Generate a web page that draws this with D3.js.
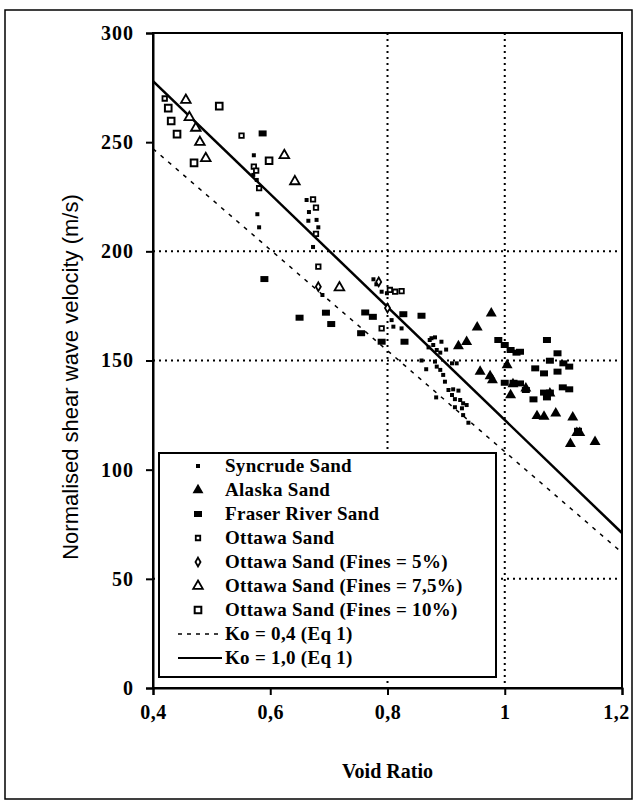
<!DOCTYPE html>
<html>
<head>
<meta charset="utf-8">
<script src="https://cdn.jsdelivr.net/npm/d3@7"></script>
<style>
  body { margin: 0; background: #fff; }
  text { fill: #000; }
</style>
</head>
<body>
<div id="chart"></div>
<script>
// void ratio (e) vs normalised shear wave velocity (m/s)
var syncrude = [
  [0.572, 244], [0.571, 235], [0.577, 232.7], [0.578, 217], [0.581, 211],
  [0.662, 223.5], [0.666, 218], [0.665, 214], [0.679, 214.4], [0.682, 211],
  [0.673, 202], [0.689, 180], [0.776, 187.2], [0.781, 184.9], [0.790, 181.5],
  [0.799, 180.8], [0.807, 168.5], [0.810, 165.5], [0.824, 164.7], [0.872, 159.4],
  [0.875, 160.2], [0.881, 160.6], [0.892, 158.6], [0.878, 157.1], [0.884, 154.8],
  [0.890, 153.6], [0.881, 149.5], [0.884, 147.2], [0.890, 145.7], [0.895, 143.4],
  [0.910, 148.7], [0.918, 148.7], [0.898, 140.3], [0.904, 136.5], [0.912, 136.8],
  [0.921, 136.2], [0.910, 134.2], [0.915, 132.3], [0.924, 131.9], [0.929, 130.4],
  [0.935, 129.6], [0.927, 128.1], [0.929, 125], [0.938, 121.5], [0.883, 133.1],
  [0.915, 128.6], [0.858, 150], [0.866, 146], [0.870, 156], [0.900, 155]
];
var alaska = [
  [0.921, 156.6], [0.935, 158.6], [0.953, 165.2], [0.977, 171.6], [0.958, 144.9],
  [0.975, 142.9], [0.979, 141], [1.004, 147.9], [1.014, 139.2], [1.010, 134.2],
  [1.036, 137.2], [1.055, 124.6], [1.067, 124.3], [1.087, 125.8], [1.116, 124],
  [1.123, 116.9], [1.128, 116.9], [1.112, 111.8], [1.154, 112.8], [1.077, 135]
];
var fraser = [
  [0.989, 159.4], [1.000, 157.1], [1.010, 154.8], [1.020, 153.6], [1.026, 154],
  [1.000, 139.8], [1.015, 139.8], [1.026, 139.5], [1.036, 136.5], [1.049, 132.2],
  [1.052, 146.4], [1.067, 144.1], [1.072, 159.4], [1.077, 149.9], [1.090, 153.3],
  [1.100, 148.7], [1.110, 147.2], [1.090, 144.9], [1.099, 137.7], [1.110, 136.8],
  [1.067, 135.3], [1.077, 135.3], [1.072, 133.1], [1.125, 117.8],
  [0.590, 187.3], [0.650, 169.6], [0.695, 171.9], [0.704, 166.7], [0.755, 162.5],
  [0.762, 172], [0.775, 170], [0.790, 158.6], [0.829, 158.6], [0.827, 171.2],
  [0.858, 170.5], [0.587, 254]
];
var ottawa = [
  [0.420, 270], [0.551, 253], [0.572, 238.8], [0.576, 237], [0.581, 228.9],
  [0.673, 223.8], [0.678, 220], [0.678, 208], [0.682, 193], [0.790, 164.7],
  [0.804, 182.3], [0.813, 181.5], [0.824, 181.8]
];
var fines5 = [[0.682, 183.8], [0.800, 174], [0.785, 186]];
var fines75 = [
  [0.456, 269.3], [0.462, 261.4], [0.473, 256.5], [0.480, 250], [0.490, 242.6],
  [0.624, 244], [0.642, 232], [0.718, 183.4]
];
var fines10 = [
  [0.426, 265.6], [0.431, 259.7], [0.441, 253.7], [0.470, 240.5], [0.513, 266.5],
  [0.598, 241.5]
];
var ko04 = [[0.4, 247], [1.2, 62]];
var ko10 = [[0.4, 278], [1.2, 71]];

var xTicks = [0.4, 0.6, 0.8, 1.0, 1.2],
    yTicks = [0, 50, 100, 150, 200, 250, 300],
    gridX = [0.8, 1.0],
    gridY = [200, 150, 50];

var legendLabels = ["Syncrude Sand", "Alaska Sand", "Fraser River Sand", "Ottawa Sand",
  "Ottawa Sand (Fines = 5%)", "Ottawa Sand (Fines = 7,5%)", "Ottawa Sand (Fines = 10%)",
  "Ko = 0,4 (Eq  1)", "Ko = 1,0 (Eq  1)"];

var W = 634, H = 803;

var svg = d3.select("#chart").append("svg")
    .attr("width", W)
    .attr("height", H)
    .style("font-family", "'Liberation Serif', 'Times New Roman', serif");

// outer frame
svg.append("rect")
  .attr("x", 5).attr("y", 10).attr("width", 627).attr("height", 789)
  .attr("fill", "none").attr("stroke", "#000").attr("stroke-width", 1.5);

var x = d3.scaleLinear().domain([0.4, 1.2]).range([153, 622]);
var y = d3.scaleLinear().domain([0, 300]).range([688, 33]);

// gridlines
svg.append("g").selectAll("line").data(gridX).enter().append("line")
  .attr("x1", d => x(d)).attr("x2", d => x(d))
  .attr("y1", y(300)).attr("y2", y(0))
  .attr("stroke", "#000").attr("stroke-width", 2).attr("stroke-dasharray", "2,4");
svg.append("g").selectAll("line").data(gridY).enter().append("line")
  .attr("x1", x(0.4)).attr("x2", x(1.2))
  .attr("y1", d => y(d)).attr("y2", d => y(d))
  .attr("stroke", "#000").attr("stroke-width", 2).attr("stroke-dasharray", "2,4");

// plot frame
svg.append("rect")
  .attr("x", x(0.4)).attr("y", y(300))
  .attr("width", x(1.2) - x(0.4)).attr("height", y(0) - y(300))
  .attr("fill", "none").attr("stroke", "#000").attr("stroke-width", 2);

// axes
var xAxis = svg.append("g")
  .attr("transform", "translate(0," + y(0) + ")")
  .call(d3.axisBottom(x).tickValues(xTicks).tickSize(7).tickPadding(10)
    .tickFormat(d => d === 1 ? "1" : String(d).replace(".", ",")));
var yAxis = svg.append("g")
  .attr("transform", "translate(" + x(0.4) + ",0)")
  .call(d3.axisLeft(y).tickValues(yTicks).tickSize(7).tickPadding(12));
[xAxis, yAxis].forEach(function (a) {
  a.select(".domain").attr("stroke-width", 2);
  a.selectAll(".tick line").attr("stroke-width", 2);
  a.selectAll("text")
    .attr("font-family", "'Liberation Serif', serif")
    .attr("font-weight", "bold")
    .attr("font-size", 20);
});
yAxis.selectAll("text").attr("letter-spacing", 1);
xAxis.selectAll("text").attr("letter-spacing", 0.5)
  .attr("dx", d => d === 1.2 ? -6 : 0);

// equation lines
var line = d3.line().x(d => x(d[0])).y(d => y(d[1]));
svg.append("path").datum(ko04).attr("d", line)
  .attr("fill", "none").attr("stroke", "#000").attr("stroke-width", 1.5)
  .attr("stroke-dasharray", "4,6");
svg.append("path").datum(ko10).attr("d", line)
  .attr("fill", "none").attr("stroke", "#000").attr("stroke-width", 2.5);

// markers
var sq = d3.symbol().type(d3.symbolSquare);
var tri = d3.symbol().type(d3.symbolTriangle);
var dia = d3.symbol().type(d3.symbolDiamond);

var series = [
  { data: syncrude, path: sq.size(16)(), fill: "#000", sw: 0 },
  { data: alaska, path: tri.size(52)(), fill: "#000", sw: 0 },
  { data: fraser, path: "M-4,-3h8v6h-8z", fill: "#000", sw: 0 },
  { data: ottawa, path: sq.size(20)(), fill: "#fff", sw: 1.8 },
  { data: fines5, path: dia.size(22)(), fill: "#fff", sw: 1.8 },
  { data: fines75, path: tri.size(40)(), fill: "#fff", sw: 1.8 },
  { data: fines10, path: sq.size(44)(), fill: "#fff", sw: 2 }
];

series.forEach(function (s) {
  svg.append("g").selectAll("path").data(s.data).enter().append("path")
    .attr("transform", d => "translate(" + x(d[0]) + "," + y(d[1]) + ")")
    .attr("d", s.path)
    .attr("fill", s.fill)
    .attr("stroke", "#000")
    .attr("stroke-width", s.sw);
});

// legend
var lg = svg.append("g");
lg.append("rect")
  .attr("x", 159).attr("y", 453).attr("width", 337).attr("height", 224)
  .attr("fill", "#fff").attr("stroke", "#000").attr("stroke-width", 2);

var rowY = d3.scalePoint().domain(d3.range(legendLabels.length)).range([466, 658]);

legendLabels.forEach(function (lab, i) {
  var cy = rowY(i);
  if (i < series.length) {
    lg.append("path")
      .attr("transform", "translate(198," + cy + ")")
      .attr("d", series[i].path)
      .attr("fill", series[i].fill)
      .attr("stroke", "#000")
      .attr("stroke-width", series[i].sw);
  } else {
    lg.append("line")
      .attr("x1", 178).attr("x2", 222).attr("y1", cy).attr("y2", cy)
      .attr("stroke", "#000")
      .attr("stroke-width", i === 7 ? 1.5 : 2)
      .attr("stroke-dasharray", i === 7 ? "4,5" : null);
  }
  lg.append("text")
    .attr("x", 225).attr("y", cy + 6)
    .attr("font-weight", "bold").attr("font-size", 19)
    .attr("letter-spacing", 0.3)
    .text(lab);
});

// axis titles
svg.append("text")
  .attr("x", x(0.8)).attr("y", 778)
  .attr("text-anchor", "middle")
  .attr("font-weight", "bold").attr("font-size", 20)
  .text("Void Ratio");

svg.append("text")
  .attr("transform", "translate(78,377) rotate(-90)")
  .attr("text-anchor", "middle")
  .attr("font-family", "'Liberation Sans', Arial, sans-serif")
  .attr("font-size", 22)
  .text("Normalised shear wave velocity (m/s)");
</script>
</body>
</html>
